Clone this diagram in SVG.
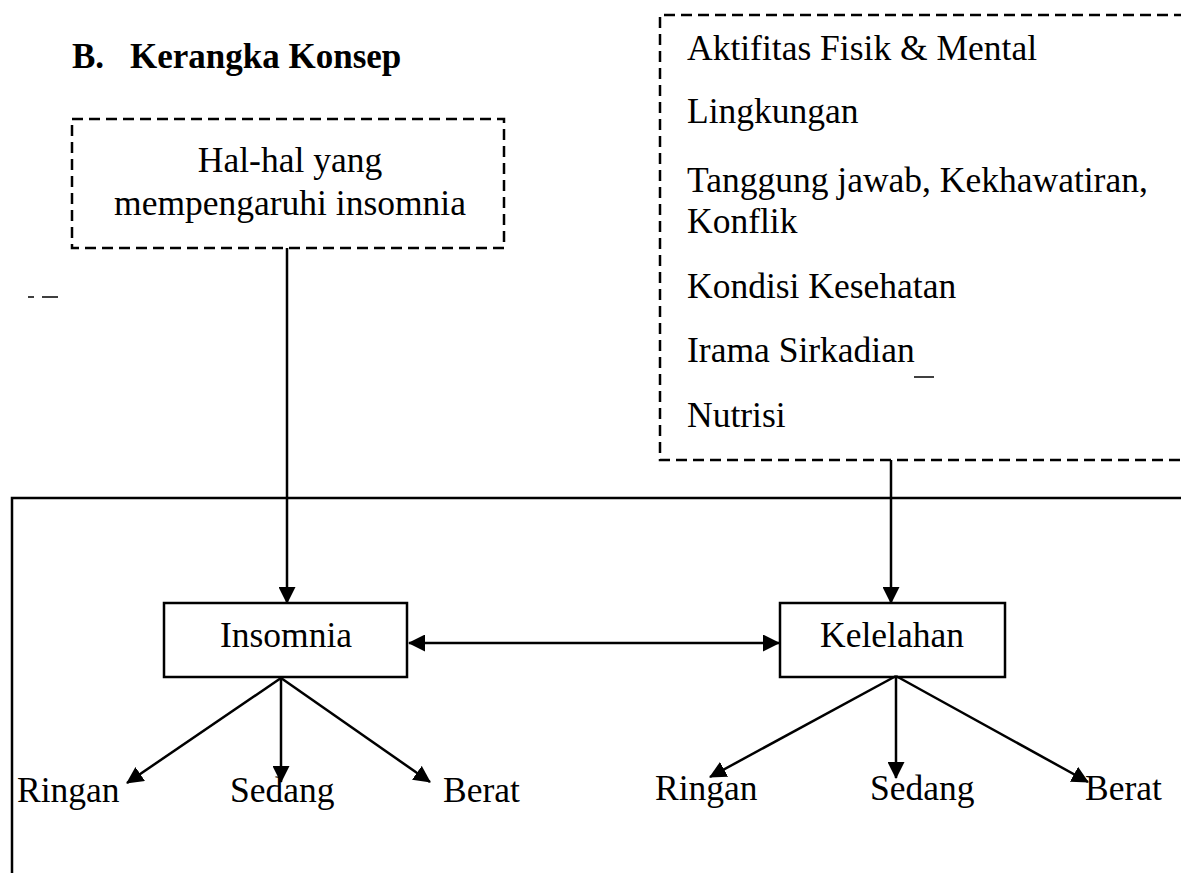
<svg xmlns="http://www.w3.org/2000/svg" width="1181" height="873" viewBox="0 0 1181 873">
  <style>
    .t { font-family: "Liberation Serif", "Times New Roman", serif; font-size: 35.5px; fill: #000; }
    .title { font-family: "Liberation Serif", "Times New Roman", serif; font-size: 35px; font-weight: bold; fill: #000; }
    .box { fill: #fff; stroke: #000; stroke-width: 2.5; }
    .dbox { fill: none; stroke: #000; stroke-width: 2.5; stroke-dasharray: 11 6; }
    .ln { fill: none; stroke: #000; stroke-width: 2.5; }
    .mark { fill: none; stroke: #000; stroke-width: 1.5; }
  </style>
  <defs>
    <marker id="arr" viewBox="0 0 17 17" markerWidth="17" markerHeight="17" refX="16" refY="8.5" markerUnits="userSpaceOnUse" orient="auto-start-reverse">
      <path d="M0,0 L17,8.5 L0,17 z" fill="#000"/>
    </marker>
  </defs>
  <rect width="1181" height="873" fill="#fff"/>

  <g id="title">
    <text class="title" x="72" y="68">B.</text>
    <text class="title" x="130" y="68">Kerangka Konsep</text>
  </g>

  <g id="frame">
    <path class="ln" d="M12 873 V498 H1181"/>
  </g>

  <g id="factors-insomnia">
    <rect class="dbox" x="72" y="119" width="432" height="129"/>
    <text class="t" x="290" y="172" text-anchor="middle">Hal-hal yang</text>
    <text class="t" x="290" y="215" text-anchor="middle">mempengaruhi insomnia</text>
  </g>

  <g id="factors-kelelahan">
    <path class="dbox" d="M1185 15 H660 V460 H1185"/>
    <text class="t" x="687" y="60">Aktifitas Fisik &amp; Mental</text>
    <text class="t" x="687" y="123">Lingkungan</text>
    <text class="t" x="687" y="192">Tanggung jawab, Kekhawatiran,</text>
    <text class="t" x="687" y="233">Konflik</text>
    <text class="t" x="687" y="298">Kondisi Kesehatan</text>
    <text class="t" x="687" y="362">Irama Sirkadian</text>
    <text class="t" x="687" y="427">Nutrisi</text>
  </g>

  <g id="marks">
    <path class="mark" d="M914 377 H934"/>
    <path class="mark" d="M28 297 H34 M42 297 H58"/>
  </g>

  <g id="insomnia">
    <rect class="box" x="164" y="603" width="243" height="74"/>
    <text class="t" x="286" y="647" text-anchor="middle">Insomnia</text>
  </g>

  <g id="kelelahan">
    <rect class="box" x="780" y="603" width="225" height="74"/>
    <text class="t" x="892" y="647" text-anchor="middle">Kelelahan</text>
  </g>

  <g id="insomnia-levels">
    <text class="t" x="17" y="802">Ringan</text>
    <text class="t" x="230" y="802">Sedang</text>
    <text class="t" x="443" y="802">Berat</text>
  </g>

  <g id="kelelahan-levels">
    <text class="t" x="655" y="800">Ringan</text>
    <text class="t" x="870" y="800">Sedang</text>
    <text class="t" x="1085" y="800">Berat</text>
  </g>

  <g id="connectors">
    <path class="ln" d="M287 248 V603" marker-end="url(#arr)"/>
    <path class="ln" d="M891 460 V603" marker-end="url(#arr)"/>
    <path class="ln" d="M409 643 H779" marker-start="url(#arr)" marker-end="url(#arr)"/>
    <path class="ln" d="M281 678 L127 783" marker-end="url(#arr)"/>
    <path class="ln" d="M281 678 V782" marker-end="url(#arr)"/>
    <path class="ln" d="M281 678 L430 782" marker-end="url(#arr)"/>
    <path class="ln" d="M896 676 L710 777" marker-end="url(#arr)"/>
    <path class="ln" d="M896 676 V778" marker-end="url(#arr)"/>
    <path class="ln" d="M896 676 L1088 782" marker-end="url(#arr)"/>
  </g>
</svg>
